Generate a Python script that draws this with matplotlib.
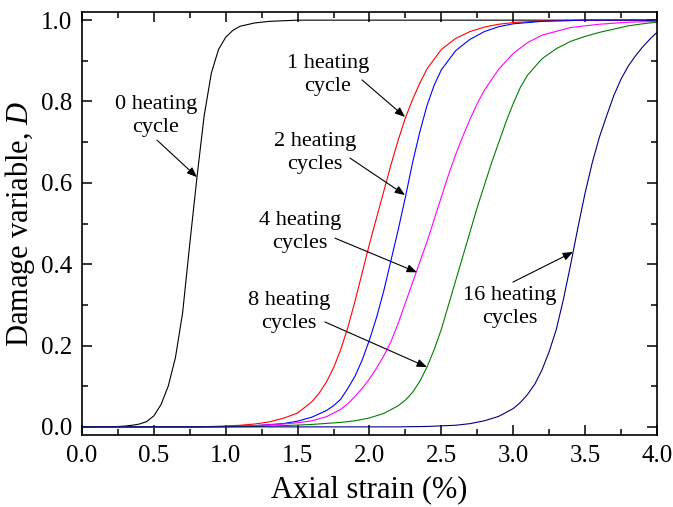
import matplotlib
matplotlib.use('Agg')
import matplotlib.pyplot as plt
from matplotlib.ticker import MultipleLocator

plt.rcParams['font.family'] = 'serif'
plt.rcParams['font.serif'] = ['Liberation Serif', 'Times New Roman', 'DejaVu Serif']
plt.rcParams['mathtext.fontset'] = 'custom'
plt.rcParams['mathtext.rm'] = 'Liberation Serif'
plt.rcParams['mathtext.it'] = 'Liberation Serif:italic'

# damage variable vs axial strain, one curve per number of heating cycles
strain_0 = [0, 0.20, 0.30, 0.35, 0.40, 0.45, 0.50, 0.55, 0.60, 0.65, 0.70, 0.75, 0.80, 0.85,
            0.90, 0.95, 1.00, 1.05, 1.10, 1.20, 1.30, 1.50, 4.0]
damage_0 = [0, 0.0, 0.002, 0.004, 0.007, 0.013, 0.027, 0.055, 0.10, 0.17, 0.28, 0.45, 0.614, 0.765,
            0.87, 0.928, 0.958, 0.975, 0.985, 0.993, 0.997, 1.0, 1.0]

strain_1 = [0, 0.8, 1.0, 1.1, 1.2, 1.3, 1.4, 1.5, 1.6, 1.65, 1.7, 1.75, 1.8, 1.85, 1.9, 1.95,
            2.0, 2.05, 2.1, 2.15, 2.2, 2.25, 2.3, 2.35, 2.4, 2.5, 2.6, 2.7, 2.8, 2.9, 3.0,
            3.2, 3.5, 4.0]
damage_1 = [0, 0.0, 0.002, 0.004, 0.007, 0.012, 0.021, 0.034, 0.062, 0.083, 0.11, 0.145, 0.19, 0.245,
            0.31, 0.38, 0.45, 0.515, 0.58, 0.645, 0.705, 0.76, 0.805, 0.845, 0.88, 0.928, 0.955,
            0.972, 0.983, 0.99, 0.994, 0.998, 1.0, 1.0]

strain_2 = [0, 0.8, 1.0, 1.2, 1.4, 1.5, 1.6, 1.7, 1.75, 1.8, 1.85, 1.9, 1.95, 2.0, 2.05, 2.1,
            2.15, 2.2, 2.25, 2.3, 2.35, 2.4, 2.45, 2.5, 2.6, 2.7, 2.8, 2.9, 3.0, 3.2, 3.5, 4.0]
damage_2 = [0, 0.0, 0.001, 0.003, 0.008, 0.014, 0.024, 0.04, 0.052, 0.068, 0.095, 0.125, 0.165,
            0.214, 0.27, 0.335, 0.41, 0.485, 0.565, 0.65, 0.725, 0.79, 0.84, 0.878, 0.925, 0.953,
            0.972, 0.984, 0.991, 0.997, 1.0, 1.0]

strain_4 = [0, 0.8, 1.0, 1.2, 1.4, 1.5, 1.6, 1.7, 1.8, 1.85, 1.9, 1.95, 2.0, 2.05, 2.1, 2.15,
            2.2, 2.25, 2.3, 2.35, 2.4, 2.45, 2.5, 2.55, 2.6, 2.65, 2.7, 2.75, 2.8, 2.9, 3.0,
            3.1, 3.2, 3.4, 3.6, 3.8, 4.0]
damage_4 = [0, 0.0, 0.001, 0.003, 0.007, 0.01, 0.015, 0.025, 0.043, 0.057, 0.075, 0.095, 0.118,
            0.145, 0.175, 0.21, 0.255, 0.305, 0.355, 0.405, 0.455, 0.51, 0.565, 0.62, 0.67, 0.715,
            0.757, 0.795, 0.828, 0.88, 0.918, 0.945, 0.963, 0.982, 0.99, 0.995, 0.997]

strain_8 = [0, 1.0, 1.2, 1.4, 1.6, 1.8, 1.9, 2.0, 2.1, 2.2, 2.25, 2.3, 2.35, 2.4, 2.45, 2.5,
            2.55, 2.6, 2.65, 2.7, 2.75, 2.8, 2.85, 2.9, 2.95, 3.0, 3.05, 3.1, 3.2, 3.3, 3.4,
            3.5, 3.6, 3.7, 3.8, 3.9, 4.0]
damage_8 = [0, 0.0, 0.001, 0.003, 0.006, 0.011, 0.015, 0.022, 0.033, 0.052, 0.066, 0.085, 0.112,
            0.147, 0.19, 0.24, 0.30, 0.36, 0.42, 0.48, 0.54, 0.595, 0.65, 0.70, 0.75, 0.795,
            0.835, 0.865, 0.905, 0.93, 0.948, 0.96, 0.97, 0.978, 0.986, 0.991, 0.995]

strain_16 = [0, 2.2, 2.4, 2.6, 2.7, 2.8, 2.9, 3.0, 3.05, 3.1, 3.15, 3.2, 3.25, 3.3, 3.35, 3.4,
             3.45, 3.5, 3.55, 3.6, 3.65, 3.7, 3.75, 3.8, 3.85, 3.9, 3.95, 4.0]
damage_16 = [0, 0.0, 0.001, 0.004, 0.008, 0.015, 0.026, 0.045, 0.06, 0.08, 0.105, 0.14, 0.185,
             0.24, 0.315, 0.40, 0.49, 0.575, 0.65, 0.713, 0.765, 0.815, 0.855, 0.887, 0.912,
             0.934, 0.953, 0.97]

curves = [
    (strain_0, damage_0, 'black'),
    (strain_1, damage_1, '#ff0000'),
    (strain_2, damage_2, '#0000ff'),
    (strain_4, damage_4, '#ff00ff'),
    (strain_8, damage_8, '#008000'),
    (strain_16, damage_16, '#000080'),
]

# label text, text centre, arrow start, arrow tip
labels = [
    ('0 heating\ncycle', (0.515, 0.764), (0.522, 0.705), (0.800, 0.614)),
    ('1 heating\ncycle', (1.711, 0.865), (1.948, 0.853), (2.247, 0.762)),
    ('2 heating\ncycles', (1.621, 0.673), (1.864, 0.661), (2.247, 0.570)),
    ('4 heating\ncycles', (1.517, 0.479), (1.760, 0.464), (2.330, 0.380)),
    ('8 heating\ncycles', (1.440, 0.283), (1.690, 0.258), (2.400, 0.147)),
    ('16 heating\ncycles', (2.977, 0.295), (2.998, 0.356), (3.416, 0.430)),
]

fig = plt.figure(figsize=(6.73, 5.07), dpi=100)
ax = fig.add_axes([0.1218, 0.142, 0.8544, 0.8343])

for x, y, c in curves:
    ax.plot(x, y, color=c, lw=0.8)

for txt, pos, start, tip in labels:
    ax.text(pos[0], pos[1], txt, ha='center', va='center', multialignment='center',
            fontsize=16, linespacing=1.3)
    ax.annotate('', xy=tip, xytext=start,
                arrowprops=dict(arrowstyle='-|>,head_length=0.5,head_width=0.2',
                                color='black', lw=0.8, mutation_scale=12,
                                shrinkA=0, shrinkB=0))

ax.set_xlim(0, 4.0)
ax.set_ylim(-0.02, 1.02)
ax.xaxis.set_major_locator(MultipleLocator(0.5))
ax.xaxis.set_minor_locator(MultipleLocator(0.25))
ax.yaxis.set_major_locator(MultipleLocator(0.2))
ax.yaxis.set_minor_locator(MultipleLocator(0.1))
ax.tick_params(which='both', direction='in', top=True, right=True, width=1.1)
ax.tick_params(which='major', length=7, labelsize=18, pad=7)
ax.tick_params(which='minor', length=4.5)
for s in ax.spines.values():
    s.set_linewidth(1.2)

ax.set_xlabel('Axial strain (%)', fontsize=22, labelpad=6)
ax.set_ylabel('Damage variable, $D$', fontsize=22, labelpad=3)

plt.savefig('out.png', dpi=100)
